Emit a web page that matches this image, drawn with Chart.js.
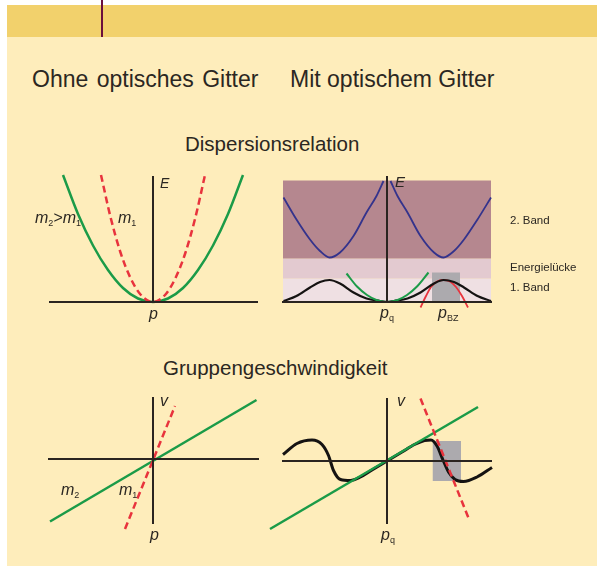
<!DOCTYPE html>
<html lang="de">
<head>
<meta charset="UTF-8">
<title>Dispersionsrelation und Gruppengeschwindigkeit</title>
<script src="https://cdn.jsdelivr.net/npm/chart.js"></script>
<style>
    body { margin: 0; background: #fff; }
    .page { position: relative; width: 597px; height: 566px; overflow: hidden; font-family: "Liberation Sans", Arial, sans-serif; color: #2b2722; }
    .panel { position: absolute; left: 7px; top: 5px; right: 0; bottom: 0; background: #feedbb; }
    .bar { position: absolute; left: 7px; top: 5px; right: 0; height: 32px; background: #f2d16c; }
    .mark { position: absolute; left: 101px; top: 0; width: 2px; height: 37px; background: #6b0f3c; }
    canvas { position: absolute; left: 0; top: 0; }
    .t { position: absolute; white-space: nowrap; line-height: 1; }
    .lbl { position: absolute; white-space: nowrap; line-height: 1; font-style: italic; font-size: 16px; }
    .lbl sub { font-size: 9px; vertical-align: -3px; line-height: 0; font-style: normal; }
    .small { font-size: 11.5px; }
</style>
</head>
<body>
<div class="page">
    <div class="panel"></div>
    <div class="bar"></div>
    <div class="mark"></div>

    <div class="t" style="left:32px; top:68px; font-size:23px; word-spacing:2px;">Ohne optisches Gitter</div>
    <div class="t" style="left:290px; top:68px; font-size:23px;">Mit optischem Gitter</div>
    <div class="t" style="left:185px; top:134px; font-size:20.5px;">Dispersionsrelation</div>
    <div class="t" style="left:163px; top:358px; font-size:20.5px;">Gruppengeschwindigkeit</div>

    <canvas id="c1" width="597" height="566"></canvas>
    <canvas id="c2" width="597" height="566"></canvas>
    <canvas id="c3" width="597" height="566"></canvas>
    <canvas id="c4" width="597" height="566"></canvas>

    <!-- Beschriftungen oben -->
    <div class="lbl" style="left:160px; top:176px; font-size:14px;">E</div>
    <div class="lbl" style="left:149px; top:306px;">p</div>
    <div class="lbl" style="left:35px; top:210px;">m<sub>2</sub>&gt;m<sub>1</sub></div>
    <div class="lbl" style="left:118px; top:210px;">m<sub>1</sub></div>

    <div class="lbl" style="left:395px; top:174px; font-size:15px;">E</div>
    <div class="lbl" style="left:380px; top:305px;">p<sub>q</sub></div>
    <div class="lbl" style="left:438px; top:305px;">p<sub>BZ</sub></div>
    <div class="t small" style="left:510px; top:215px;">2. Band</div>
    <div class="t small" style="left:510px; top:262px;">Energielücke</div>
    <div class="t small" style="left:510px; top:282px;">1. Band</div>

    <!-- Beschriftungen unten -->
    <div class="lbl" style="left:160px; top:393px;">v</div>
    <div class="lbl" style="left:150px; top:527px;">p</div>
    <div class="lbl" style="left:61px; top:482px;">m<sub>2</sub></div>
    <div class="lbl" style="left:119px; top:482px;">m<sub>1</sub></div>

    <div class="lbl" style="left:397px; top:393px;">v</div>
    <div class="lbl" style="left:381px; top:527px;">p<sub>q</sub></div>
</div>

<script>

    // ---- Daten ----

    // Dispersionsrelation ohne Gitter
    var p1Green = [-1.8, -1.5, -1.2, -0.9, -0.6, -0.3, 0, 0.3, 0.6, 0.9, 1.2, 1.5, 1.8];
    var e1Green = [2.54, 1.76, 1.13, 0.64, 0.28, 0.07, 0, 0.07, 0.28, 0.64, 1.13, 1.76, 2.54];
    var p1Red = [-1.04, -0.85, -0.65, -0.45, -0.25, 0, 0.25, 0.45, 0.65, 0.85, 1.04];
    var e1Red = [2.54, 1.70, 0.99, 0.48, 0.15, 0, 0.15, 0.48, 0.99, 1.70, 2.54];

    // Dispersionsrelation mit Gitter
    var bandP = [-2.08, 2.08];
    var bandEdges = [2.43, 0.87, 0.47, 0]; // 2. Band oben, Lücke oben, Lücke unten, Boden
    var p2BlueL = [-2.07, -1.81, -1.54, -1.34, -1.15, -0.94, -0.67, -0.41, -0.21, -0.07];
    var e2BlueL = [2.09, 1.65, 1.25, 1.02, 0.89, 0.99, 1.32, 1.79, 2.12, 2.42];
    var p2BlueR = [0.07, 0.21, 0.41, 0.67, 0.94, 1.13, 1.34, 1.54, 1.81, 2.08];
    var e2BlueR = [2.42, 2.12, 1.79, 1.32, 0.99, 0.89, 1.02, 1.25, 1.65, 2.09];
    var p2Black = [-2.07, -1.81, -1.54, -1.34, -1.15, -0.94, -0.67, -0.41, -0.14, 0, 0.14, 0.41, 0.67, 0.94, 1.13, 1.34, 1.54, 1.81, 2.08];
    var e2Black = [0.02, 0.12, 0.29, 0.40, 0.44, 0.37, 0.19, 0.07, 0.02, 0, 0.02, 0.07, 0.19, 0.37, 0.44, 0.40, 0.29, 0.12, 0.02];
    var p2Green = [-0.81, -0.6, -0.4, -0.2, 0, 0.2, 0.4, 0.6, 0.83];
    var e2Green = [0.57, 0.31, 0.14, 0.035, 0, 0.035, 0.14, 0.31, 0.59];
    var p2Red = [0.67, 0.78, 0.88, 1.0, 1.13, 1.26, 1.38, 1.5, 1.62];
    var e2Red = [-0.11, 0.12, 0.30, 0.41, 0.44, 0.41, 0.30, 0.12, -0.11];
    var zoneP2 = [0.9, 1.46];
    var zoneE2 = [0.59, 0];

    // Gruppengeschwindigkeit ohne Gitter
    var p3Green = [-2.06, 2.07];
    var v3Green = [-1.25, 1.18];
    var p3Red = [-0.56, 0.44];
    var v3Red = [-1.40, 1.06];

    // Gruppengeschwindigkeit mit Gitter
    var p4Green = [-2.34, 1.82];
    var v4Green = [-1.36, 1.08];
    var p4Black = [-2.08, -1.8, -1.5, -1.3, -1.17, -1.07, -0.93, -0.73, -0.53, -0.3, 0, 0.3, 0.55, 0.75, 0.88, 1.0, 1.12, 1.23, 1.36, 1.53, 1.8, 2.1];
    var v4Black = [0.13, 0.35, 0.42, 0.33, 0.11, -0.19, -0.37, -0.39, -0.32, -0.18, 0, 0.18, 0.33, 0.41, 0.42, 0.30, 0.02, -0.22, -0.37, -0.41, -0.32, -0.13];
    var p4Red = [0.67, 1.65];
    var v4Red = [1.25, -1.19];
    var zoneP4 = [0.91, 1.48];
    var zoneV4 = [0.40, -0.40];

    // ---- Farben ----
    var GREEN = '#1b9b48';
    var RED = '#e8333d';
    var BLUE = '#34338c';
    var BLACK = '#151312';
    var AXIS = '#2a2420';

    // ---- Hilfsfunktionen ----

    function pts(xs, ys) {
        return xs.map(function (x, i) { return { x: x, y: ys[i] }; });
    }

    function curve(xs, ys, color, width, order, dashed) {
        return {
            data: pts(xs, ys),
            borderColor: color,
            borderWidth: width,
            borderDash: dashed ? [7, 4] : [],
            pointRadius: 0,
            fill: false,
            clip: false,
            cubicInterpolationMode: 'monotone',
            order: order
        };
    }

    function box(xs, top, bottom, color, order) {
        return {
            data: pts(xs, [top, top]),
            borderWidth: 0,
            pointRadius: 0,
            backgroundColor: color,
            fill: { value: bottom },
            clip: false,
            order: order
        };
    }

    function axis(min, max, where) {
        return {
            type: 'linear',
            min: min,
            max: max,
            position: where,
            grid: { display: false },
            ticks: { display: false },
            border: { display: true, color: AXIS, width: 2, z: 1 }
        };
    }

    function makeChart(id, area, xr, yr, datasets) {
        return new Chart(document.getElementById(id), {
            type: 'line',
            data: { datasets: datasets },
            options: {
                responsive: false,
                animation: false,
                events: [],
                layout: { padding: { left: area[0], top: area[1], right: 597 - area[2], bottom: 566 - area[3] } },
                plugins: { legend: { display: false }, tooltip: { enabled: false } },
                scales: {
                    x: axis(xr[0], xr[1], { y: 0 }),
                    y: axis(yr[0], yr[1], { x: 0 })
                }
            }
        });
    }

    // ---- Diagramme ----

    makeChart('c1', [50, 177, 257, 302], [-2.06, 2.08], [0, 2.5], [
        curve(p1Red, e1Red, RED, 2.5, 1, true),
        curve(p1Green, e1Green, GREEN, 2.5, 2)
    ]);

    makeChart('c2', [283, 177, 491, 302], [-2.08, 2.08], [0, 2.5], [
        curve(p2Green, e2Green, GREEN, 2, 1),
        curve(p2Black, e2Black, BLACK, 2.2, 2),
        curve(p2Red, e2Red, RED, 1.8, 3),
        curve(p2BlueL, e2BlueL, BLUE, 1.8, 4),
        curve(p2BlueR, e2BlueR, BLUE, 1.8, 4),
        box(zoneP2, zoneE2[0], zoneE2[1], '#acaaae', 5),
        box(bandP, bandEdges[0], bandEdges[1], '#b5878f', 6),
        box(bandP, bandEdges[1], bandEdges[2], '#e3cad0', 6),
        box(bandP, bandEdges[2], bandEdges[3], '#efe0e3', 6)
    ]);

    makeChart('c3', [49, 398, 258, 523], [-2.08, 2.1], [-1.28, 1.22], [
        curve(p3Red, v3Red, RED, 2.5, 1, true),
        curve(p3Green, v3Green, GREEN, 2.5, 2)
    ]);

    makeChart('c4', [283, 399, 491, 523], [-2.08, 2.08], [-1.24, 1.24], [
        curve(p4Red, v4Red, RED, 2.5, 1, true),
        curve(p4Green, v4Green, GREEN, 2.5, 2),
        curve(p4Black, v4Black, BLACK, 3, 3),
        box(zoneP4, zoneV4[0], zoneV4[1], '#acaaae', 4)
    ]);

</script>
</body>
</html>
